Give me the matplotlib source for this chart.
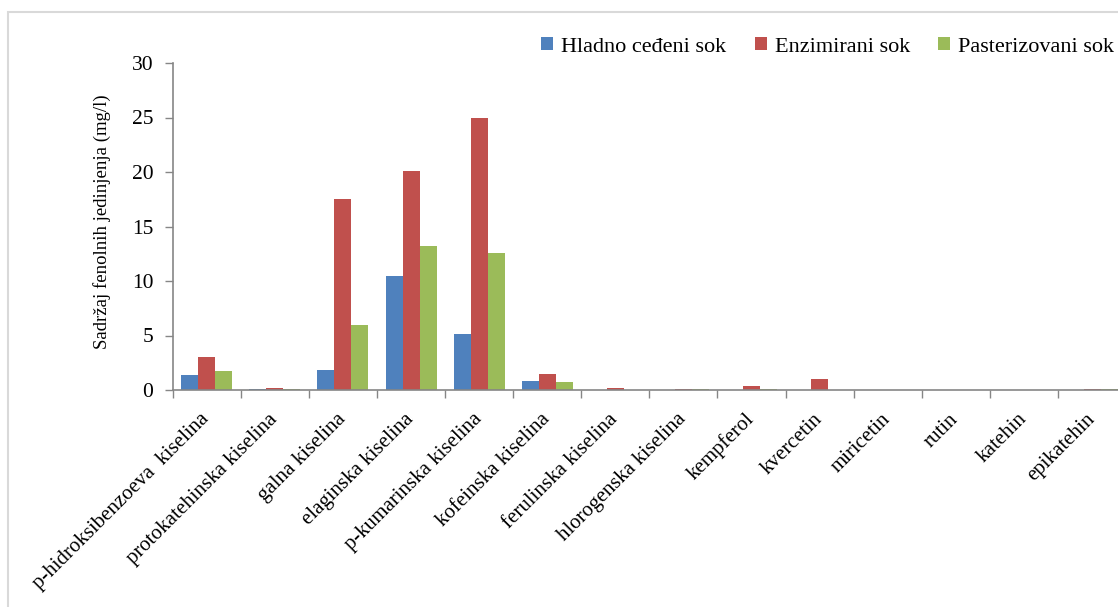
import numpy as np
import matplotlib
matplotlib.use("Agg")
import matplotlib.pyplot as plt
from matplotlib.patches import Rectangle

plt.rcParams['font.family'] = ['Liberation Serif', 'DejaVu Serif']

# phenolic compounds and their content (mg/l) in the three juices
compounds = [
    "p-hidroksibenzoeva  kiselina", "protokatehinska kiselina", "galna kiselina",
    "elaginska kiselina", "p-kumarinska kiselina", "kofeinska kiselina",
    "ferulinska kiselina", "hlorogenska kiselina", "kempferol", "kvercetin",
    "miricetin", "rutin", "katehin", "epikatehin",
]
hladno = [1.4, 0.1, 1.8, 10.5, 5.1, 0.8, 0.0, 0.0, 0.0, 0.0, 0.0, 0.0, 0.0, 0.0]
enzimirani = [3.0, 0.2, 17.5, 20.1, 25.0, 1.5, 0.15, 0.1, 0.35, 1.0, 0.0, 0.0, 0.0, 0.1]
pasterizovani = [1.7, 0.1, 6.0, 13.2, 12.6, 0.7, 0.0, 0.1, 0.1, 0.0, 0.0, 0.0, 0.0, 0.1]

series = [
    ("Hladno ceđeni sok", hladno, "#4F81BD"),
    ("Enzimirani sok", enzimirani, "#C0504D"),
    ("Pasterizovani sok", pasterizovani, "#9BBB59"),
]

W, H = 1118, 607
fig = plt.figure(figsize=(W / 100, H / 100), dpi=100)

# light chart border
fig.patches.append(Rectangle((8 / W, -0.1), 1.2, 1 - 12 / H + 0.1,
                             transform=fig.transFigure, fill=False,
                             edgecolor="#d9d9d9", linewidth=1.5))

ax_w = 14 * 68.1
ax = fig.add_axes([172.7 / W, 1 - 390 / H, ax_w / W, 327 / H])

x = np.arange(len(compounds))
bw = 0.25
for i, (name, vals, col) in enumerate(series):
    ax.bar(x + (i - 1) * bw, vals, bw, color=col, label=name, linewidth=0)

ax.set_xlim(-0.5, len(compounds) - 0.5)
ax.set_ylim(0, 30)
ax.set_yticks(range(0, 31, 5))
ax.tick_params(axis="y", direction="out", length=6, width=1, color="#868686",
               labelsize=15.5, pad=8)

ax.set_xticks(x)
ax.set_xticklabels(compounds, rotation=45, ha="right", va="center",
                   rotation_mode="anchor", fontsize=15)
ax.set_xticks(np.arange(-0.5, len(compounds), 1), minor=True)
ax.tick_params(axis="x", which="major", length=0, pad=19)
ax.tick_params(axis="x", which="minor", direction="out", length=6, width=1,
               color="#868686")

for s in ("top", "right"):
    ax.spines[s].set_visible(False)
for s in ("left", "bottom"):
    ax.spines[s].set_color("#868686")
    ax.spines[s].set_linewidth(1.2)

ax.set_ylabel("Sadržaj fenolnih jedinjenja (mg/l)", fontsize=13.5)
ax.yaxis.set_label_coords(-(172.7 - 111) / ax_w, (390 - 222) / 327)

ax.legend(loc="upper left", bbox_to_anchor=(541 / W, 1 - 37 / H),
          bbox_transform=fig.transFigure, ncol=3, frameon=False,
          fontsize=16, handlelength=0.55, handleheight=0.55, handletextpad=0.35,
          columnspacing=1.28, borderpad=0, borderaxespad=0)

fig.savefig("out.png", dpi=100)
